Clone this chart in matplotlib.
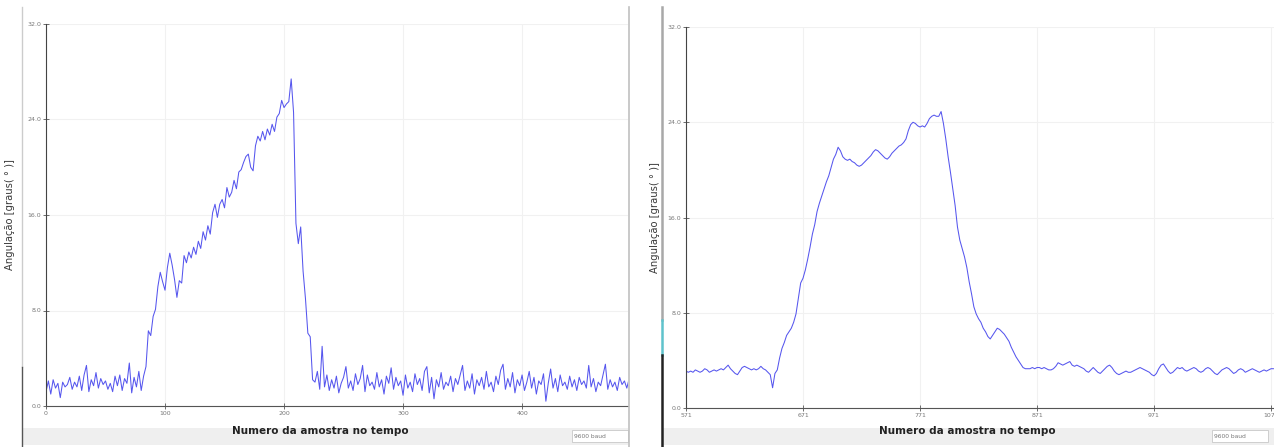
import numpy as np
import matplotlib
matplotlib.use('Agg')
import matplotlib.pyplot as plt
from matplotlib.lines import Line2D
from matplotlib.patches import Rectangle

W, H = 1274, 447

# ---------------- data ----------------
left_start, left_step = 0, 2
left_vals = [
    1.2, 2.1, 1.0, 2.2, 1.5, 1.9, 0.7, 2.0, 1.6, 1.8, 2.4, 1.4, 2.0, 1.6, 2.5, 1.3, 2.6, 3.4, 1.2, 2.2,
    1.7, 2.8, 1.5, 2.3, 1.8, 2.1, 1.4, 1.9, 1.2, 2.5, 1.7, 2.6, 1.3, 2.3, 1.9, 3.6, 1.1, 2.4, 1.6, 2.9,
    1.3, 2.5, 3.3,
    6.3, 5.9, 7.5, 8.1, 10.0, 11.2, 10.4, 9.7, 11.6, 12.8, 11.8, 10.6, 9.1, 10.5, 10.3, 12.6, 12.0, 12.9,
    12.4, 13.3, 12.7, 13.8, 13.2, 14.6, 13.9, 15.1, 14.4, 16.2, 16.9, 15.8, 16.9, 17.3, 16.6, 18.3, 17.5,
    17.9, 18.9, 18.2, 19.6, 19.8, 20.4, 20.9, 21.1, 20.0, 19.7, 21.8, 22.6, 22.2, 23.0, 22.3, 23.2, 22.7,
    23.6, 23.0, 24.2, 24.5, 25.6, 25.0, 25.3, 25.5, 27.4, 24.6, 15.3, 13.6, 15.0, 11.3, 9.0, 6.1, 5.8, 2.2,
    2.0, 2.9, 1.4, 5.0, 1.6, 2.6, 1.3, 2.2, 1.5, 2.5, 1.1, 1.9, 2.4, 3.3, 1.5, 2.1, 1.3, 2.7, 1.8, 2.3,
    3.4, 1.2, 2.6, 1.7, 2.0, 1.4, 2.8, 1.6, 2.2, 1.0, 2.5, 1.9, 3.2, 1.4, 2.4, 1.7, 2.1, 0.9, 2.6, 1.5,
    2.0, 1.2, 2.7, 1.8, 2.3, 1.3, 2.9, 3.3, 1.1, 2.4, 0.6, 2.2, 1.6, 2.8, 1.4, 2.0, 1.7, 2.5, 1.2, 2.3,
    1.8, 2.6, 3.4, 1.3, 2.1, 1.5, 2.7, 1.0, 2.2, 1.7, 2.4, 1.4, 2.9, 1.6, 2.0, 1.2, 2.5, 1.8, 3.0, 3.5,
    1.4, 2.3, 1.6, 2.8, 1.1, 2.2, 1.7, 2.6, 1.3, 2.0, 2.9, 1.5, 2.4, 1.0, 2.1, 1.8, 2.7, 0.4, 1.9, 3.1,
    1.5, 2.3, 1.2, 2.6, 1.7, 2.0, 1.4, 2.5, 1.6, 2.2, 1.3, 2.4, 1.8, 2.1, 1.5, 3.4, 1.6, 2.3, 1.2, 2.0,
    1.7, 2.6, 3.5, 1.4, 2.2, 1.6, 2.0, 1.3, 2.4, 1.8, 2.1, 1.5, 2.3,
]

right_start, right_step = 571, 2
right_vals = [
    3.1, 3.0, 3.1, 3.0, 3.2, 3.1, 3.0, 3.1, 3.3, 3.2, 3.0, 3.1, 3.2, 3.1, 3.2, 3.3, 3.2, 3.4, 3.6, 3.3,
    3.1, 2.9, 2.8, 3.1, 3.4, 3.5, 3.4, 3.3, 3.2, 3.3, 3.2, 3.3, 3.5, 3.3, 3.2, 3.0,
    2.8, 1.7, 2.9, 3.2, 4.2, 5.0, 5.5, 6.1, 6.4, 6.7, 7.2, 7.9, 9.2, 10.5, 10.9, 11.6, 12.5, 13.5, 14.6,
    15.4, 16.5, 17.2, 17.8, 18.4, 19.0, 19.5, 20.2, 20.9, 21.3, 21.9, 21.6, 21.1, 20.9, 20.8, 20.9, 20.7,
    20.6, 20.4, 20.3, 20.4, 20.6, 20.8, 21.0, 21.2, 21.5, 21.7, 21.6, 21.4, 21.2, 21.0, 20.9, 21.1, 21.4,
    21.6, 21.8, 22.0, 22.1, 22.3, 22.6, 23.3, 23.8, 24.0, 23.9, 23.7, 23.6, 23.7, 23.6, 23.9, 24.3, 24.5,
    24.6, 24.5, 24.5, 24.9, 23.9, 22.6, 21.1, 19.8, 18.4, 17.0, 15.2, 14.1, 13.4, 12.7, 11.8, 10.6, 9.6,
    8.5, 7.9, 7.5, 7.2, 6.7, 6.4, 6.0, 5.8, 6.1, 6.4, 6.7, 6.6, 6.4, 6.2, 5.9, 5.6, 5.1, 4.7, 4.3, 4.0,
    3.7, 3.4, 3.3,
    3.3, 3.3, 3.4, 3.3, 3.4, 3.4, 3.3, 3.4, 3.3, 3.2, 3.2, 3.3, 3.5, 3.8, 3.7, 3.6, 3.7, 3.8, 3.9, 3.6,
    3.5, 3.6, 3.5, 3.4, 3.3, 3.1, 3.0, 3.2, 3.4, 3.2, 3.0, 2.9, 3.1, 3.3, 3.5, 3.6, 3.4, 3.1, 2.9, 2.8,
    2.9, 3.0, 3.1, 3.0, 3.0, 3.1, 3.2, 3.3, 3.4, 3.3, 3.2, 3.1, 3.0, 2.8, 2.7, 2.9, 3.3, 3.6, 3.7, 3.4,
    3.1, 2.9, 3.0, 3.2, 3.4, 3.3, 3.4, 3.2, 3.1, 3.2, 3.3, 3.4, 3.3, 3.1, 3.0, 3.1, 3.3, 3.4, 3.3, 3.1,
    2.9, 2.8, 3.0, 3.2, 3.3, 3.4, 3.3, 3.1, 2.9, 3.0, 3.2, 3.3, 3.2, 3.0, 3.1, 3.2, 3.3, 3.2, 3.1, 3.0,
    3.1, 3.2, 3.1, 3.2, 3.3, 3.3,
]

y_ticks = [0, 8, 16, 24, 32]
y_ticklabels = ["0.0", "8.0", "16.0", "24.0", "32.0"]
left_xticks = [0, 100, 200, 300, 400]
right_xticks = [571, 671, 771, 871, 971, 1071]
ylabel = "Angulação [graus( ° )]"
xlabel = "Numero da amostra no tempo"
baud = "9600 baud"

line_color = '#5656ee'

# ---------------- figure ----------------
fig = plt.figure(figsize=(W / 100, H / 100), dpi=100)
fig.patch.set_facecolor('white')


def box(x0, y0, x1, y1):
    return [x0 / W, 1 - y1 / H, (x1 - x0) / W, (y1 - y0) / H]


def fx(x):
    return x / W


def fy(y):
    return 1 - y / H


def vline(x, y0, y1, color, lw):
    fig.add_artist(Line2D([fx(x), fx(x)], [fy(y0), fy(y1)], color=color, lw=lw,
                          transform=fig.transFigure))


def strip(x0, x1):
    fig.add_artist(Rectangle((fx(x0), fy(445)), (x1 - x0) / W, (445 - 428) / H,
                             transform=fig.transFigure, facecolor='#efefef',
                             edgecolor='none', zorder=0))


def baud_box(x0, x1):
    fig.add_artist(Rectangle((fx(x0), fy(442)), (x1 - x0) / W, 12 / H,
                             transform=fig.transFigure, facecolor='white',
                             edgecolor='#c8c8c8', lw=0.6, zorder=1))
    fig.text(fx(x0 + 2), fy(436), baud, fontsize=4.3, color='#777777',
             ha='left', va='center')


strip(23, 628)
strip(663, 1274)


def setup(ax, xlim, xticks):
    ax.set_xlim(*xlim)
    ax.set_ylim(0, 32)
    ax.set_yticks(y_ticks)
    ax.set_yticklabels(y_ticklabels)
    ax.set_xticks(xticks)
    ax.set_xticklabels([str(t) for t in xticks])
    for s in ['top', 'right']:
        ax.spines[s].set_visible(False)
    ax.spines['left'].set_color('#444444')
    ax.spines['bottom'].set_color('#555555')
    ax.spines['left'].set_linewidth(0.8)
    ax.spines['bottom'].set_linewidth(0.8)
    ax.tick_params(direction='inout', length=5, width=0.6, colors='#555555',
                   labelsize=4.5, labelcolor='#777777', pad=1)
    ax.grid(True, color='#f1f1f1', lw=0.8)
    ax.set_axisbelow(True)
    ax.set_facecolor('none')


ax1 = fig.add_axes(box(46, 24, 628, 406))
x1 = left_start + left_step * np.arange(len(left_vals))
ax1.plot(x1, left_vals, color=line_color, lw=0.75)
setup(ax1, (0, 489), left_xticks)

ax2 = fig.add_axes(box(686, 27, 1274, 408))
x2 = right_start + right_step * np.arange(len(right_vals))
ax2.plot(x2, right_vals, color=line_color, lw=0.75)
setup(ax2, (571, 1073.5), right_xticks)

# labels
fig.text(fx(320), fy(431), xlabel, fontsize=7.5, fontweight='bold', color='#222222',
         ha='center', va='center')
fig.text(fx(967), fy(431), xlabel, fontsize=7.5, fontweight='bold', color='#222222',
         ha='center', va='center')
fig.text(fx(10), fy(215), ylabel, fontsize=7.2, rotation=90, color='#3a3a3a',
         ha='center', va='center')
fig.text(fx(655), fy(218), ylabel, fontsize=7.2, rotation=90, color='#3a3a3a',
         ha='center', va='center')

baud_box(572, 628)
baud_box(1212, 1268)

# window borders
vline(22, 7, 367, '#cccccc', 1.0)
vline(22, 367, 447, '#555555', 1.0)
vline(629, 7, 447, '#c0c0c0', 1.2)
vline(662, 7, 320, '#a8a8a8', 1.8)
vline(662, 320, 355, '#5fc3cc', 1.8)
vline(662, 355, 447, '#222222', 1.8)

fig.savefig('out.png', dpi=100, facecolor='white')
